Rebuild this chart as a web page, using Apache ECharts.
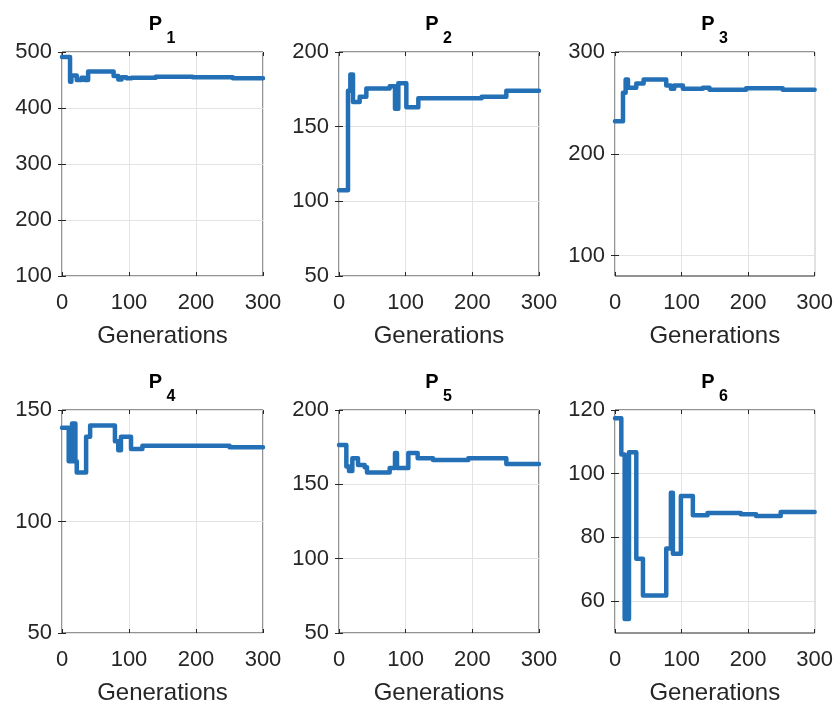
<!DOCTYPE html>
<html><head><meta charset="utf-8">
<script src="https://cdn.jsdelivr.net/npm/echarts@6/dist/echarts.min.js"></script>
<style>html,body{margin:0;padding:0;background:#fff}#c{width:836px;height:708px}</style>
</head><body><div id="c"></div>
<script>
// ---- data ----
const panelNames = ['1','2','3','4','5','6'];
const xTicks = [0, 100, 200, 300];

const p1Gen = [0, 12, 14, 22, 29, 34, 39, 77, 84, 89, 96, 104, 140, 195, 255, 300];
const p1Val = [491, 447, 458, 450, 454, 450, 465, 457, 451, 455, 453, 454, 456, 455, 453, 453];

const p2Gen = [0, 13.5, 17, 21, 31, 41, 76, 84, 89, 101, 119, 214, 251, 300];
const p2Val = [107.5, 174, 185, 166.5, 170, 175.5, 177, 162, 179, 163, 169, 170, 174, 174];

const p3Gen = [0, 12, 16, 19.5, 32, 43, 77, 84, 89, 102, 132, 142, 197, 252, 300];
const p3Val = [232, 260, 273, 265, 269, 273, 267, 264, 267, 264, 265, 263, 264.5, 263, 263];

const p4Gen = [0, 10, 15, 20, 22, 36, 42, 79, 84, 88, 103, 120, 250, 300];
const p4Val = [142, 127, 144, 127, 122, 138, 143, 136, 132, 138, 132.5, 134, 133.3, 133.3];

const p5Gen = [0, 11, 15, 20, 28.5, 38.5, 42, 76, 84, 87, 104, 118, 141, 194, 251, 300];
const p5Val = [176.5, 162, 159, 167.5, 163, 161.5, 158, 161, 171, 161, 171, 167.5, 166.4, 167.5, 163.7, 163.7];

const p6Gen = [0, 9.5, 14.5, 21, 32, 42, 77, 84, 87, 99, 117, 139, 189, 212, 249, 300];
const p6Val = [117.4, 106, 54.4, 106.7, 73.3, 61.8, 76.5, 94, 74.9, 93, 87, 87.7, 87.3, 86.7, 88, 88];

const p1Ticks = [100, 200, 300, 400, 500];
const p2Ticks = [50, 100, 150, 200];
const p3Ticks = [100, 200, 300];
const p4Ticks = [50, 100, 150];
const p5Ticks = [50, 100, 150, 200];
const p6Ticks = [60, 80, 100, 120];

const yMins = [100, 50, 80, 50, 50, 50];
const yMaxs = [500, 200, 300, 150, 200, 120];

// ---- layout ----
const gens = [p1Gen, p2Gen, p3Gen, p4Gen, p5Gen, p6Gen];
const vals = [p1Val, p2Val, p3Val, p4Val, p5Val, p6Val];
const yTicks = [p1Ticks, p2Ticks, p3Ticks, p4Ticks, p5Ticks, p6Ticks];
const lefts = [62, 339, 615], widths = [201, 200, 200];
const tops = [52, 410], heights = [224, 223];
const titleTops = [14, 372];
const FONT = 'Liberation Sans, Arial, sans-serif';
const TXT = '#262626';
const BLUE = '#2470b6';

function stepCoords(g, v) {
  const out = [];
  for (let j = 0; j < g.length; j++) {
    out.push([g[j], v[j]]);
    if (j < g.length - 1) out.push([g[j + 1], v[j]]);
  }
  return out;
}

const grid = [], xAxis = [], yAxis = [], series = [], title = [];
for (let i = 0; i < 6; i++) {
  const r = Math.floor(i / 3), c = i % 3;
  const cx = lefts[c] + widths[c] / 2;
  grid.push({left: lefts[c], top: tops[r], width: widths[c], height: heights[r],
    show: true, borderColor: TXT, borderWidth: 1, backgroundColor: '#fff'});
  title.push({
    text: 'P', left: cx - 7, top: titleTops[r], textAlign: 'center', padding: 0,
    textStyle: {fontFamily: FONT, fontWeight: 'bold', fontSize: 20, color: '#000'}
  });
  title.push({
    text: panelNames[i], left: cx + 8.5, top: titleTops[r] + 17, textAlign: 'center', padding: 0,
    textStyle: {fontFamily: FONT, fontWeight: 'bold', fontSize: 16, color: '#000'}
  });
  const ticks = yTicks[i];
  xAxis.push({
    type: 'value', gridIndex: i, min: xTicks[0], max: xTicks[xTicks.length - 1], interval: xTicks[1] - xTicks[0],
    position: 'bottom', axisLine: {show: false},
    axisTick: {show: true, inside: true, length: 4, lineStyle: {color: TXT, width: 1}},
    splitLine: {show: true, lineStyle: {color: '#e3e3e3', width: 1}},
    axisLabel: {fontFamily: FONT, fontSize: 22, color: TXT, margin: 16},
    name: 'Generations', nameLocation: 'middle', nameGap: 48,
    nameTextStyle: {fontFamily: FONT, fontSize: 24, color: TXT}
  });
  xAxis.push({
    type: 'value', gridIndex: i, min: xTicks[0], max: xTicks[xTicks.length - 1], interval: xTicks[1] - xTicks[0],
    position: 'top', axisLine: {show: false}, axisLabel: {show: false}, splitLine: {show: false},
    axisTick: {show: true, inside: true, length: 4, lineStyle: {color: TXT, width: 1}}
  });
  yAxis.push({
    type: 'value', gridIndex: i, min: yMins[i], max: yMaxs[i], position: 'left', axisLine: {show: false},
    splitLine: {show: true, lineStyle: {color: '#e3e3e3', width: 1}},
    axisTick: {show: true, inside: true, length: 4, lineStyle: {color: TXT, width: 1}, customValues: ticks},
    axisLabel: {fontFamily: FONT, fontSize: 22, color: TXT, margin: 10, customValues: ticks}
  });
  yAxis.push({
    type: 'value', gridIndex: i, min: yMins[i], max: yMaxs[i], position: 'right',
    axisLine: {show: false}, axisLabel: {show: false}, splitLine: {show: false},
    axisTick: {show: true, inside: true, length: 4, lineStyle: {color: TXT, width: 1}, customValues: ticks}
  });
  series.push({
    type: 'lines', coordinateSystem: 'cartesian2d', xAxisIndex: 2 * i, yAxisIndex: 2 * i,
    polyline: true, silent: true, z: 5,
    lineStyle: {color: BLUE, width: 4.5, opacity: 1, join: 'round', cap: 'round'},
    data: [{coords: stepCoords(gens[i], vals[i])}]
  });
}

const chart = echarts.init(document.getElementById('c'), null, {renderer: 'canvas'});
chart.setOption({backgroundColor: '#fff', animation: false, title, grid, xAxis, yAxis, series});
</script></body></html>
